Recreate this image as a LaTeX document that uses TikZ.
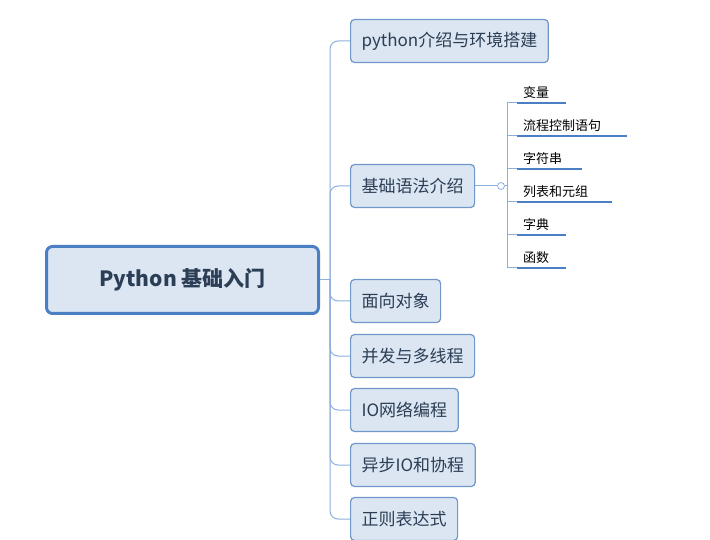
\documentclass[tikz,border=0pt]{standalone}
\usepackage{fontspec}
\setmainfont{Noto Sans CJK SC}
\begin{document}
\begin{tikzpicture}[x=1pt,y=-1pt,
  lc/.style={draw=lineblue,line width=1pt},
  br/.style={draw=boxblue,fill=boxfill,line width=1.2pt,rounded corners=4pt,anchor=west,minimum height=43pt,inner xsep=11pt,font=\fontsize{17}{20}\selectfont,text=textc},
  sub/.style={anchor=south west,font=\fontsize{13}{15}\selectfont,inner sep=2pt,text=black}]
\definecolor{lineblue}{HTML}{8EAEDB}
\definecolor{boxblue}{HTML}{6F97C9}
\definecolor{boxfill}{HTML}{DCE6F2}
\definecolor{textc}{HTML}{2B3E55}
\definecolor{ulblue}{HTML}{4A7FC4}
\useasboundingbox (0,0) rectangle (710,540);
\node[draw=ulblue,fill=boxfill,line width=3pt,rounded corners=6pt,minimum width=272pt,minimum height=67pt,font=\fontsize{21}{24}\selectfont\bfseries,text=textc] (root) at (182.5,280) {Python 基础入门};
\node[br] (b1) at (350,41) {python介绍与环境搭建};
\node[br] (b2) at (350,186) {基础语法介绍};
\node[br] (b3) at (350,301) {面向对象};
\node[br] (b4) at (350,356) {并发与多线程};
\node[br] (b5) at (350,410) {IO网络编程};
\node[br] (b6) at (350,465) {异步IO和协程};
\node[br] (b7) at (350,519) {正则表达式};
\coordinate (tr) at (330,280);
\draw[lc] (root.east) -- (tr);
\foreach \b in {b1,b2,b3,b4,b5,b6,b7}
  \draw[lc,rounded corners=8pt] (tr) |- (\b.west);
\node[draw=lineblue,circle,inner sep=0pt,minimum size=7pt,line width=0.8pt] (knob) at (501,186) {};
\draw[lc] (b2.east) -- (knob);
\coordinate (sv) at (507,186);
\draw[lc] (knob) -- (sv);
\foreach \y/\e/\t/\n in {103/566/变量/s1,136/627/流程控制语句/s2,169/582/字符串/s3,202/612/列表和元组/s4,235/566/字典/s5,268/566/函数/s6}{
  \coordinate (\n a) at (517,\y);
  \coordinate (\n b) at (\e,\y);
  \node[sub] (\n) at (521,\y-2) {\t};
  \draw[lc] (sv) |- (\n a);
  \draw[draw=ulblue,line width=2pt] (\n a) -- (\n b);
}
\end{tikzpicture}
\end{document}
